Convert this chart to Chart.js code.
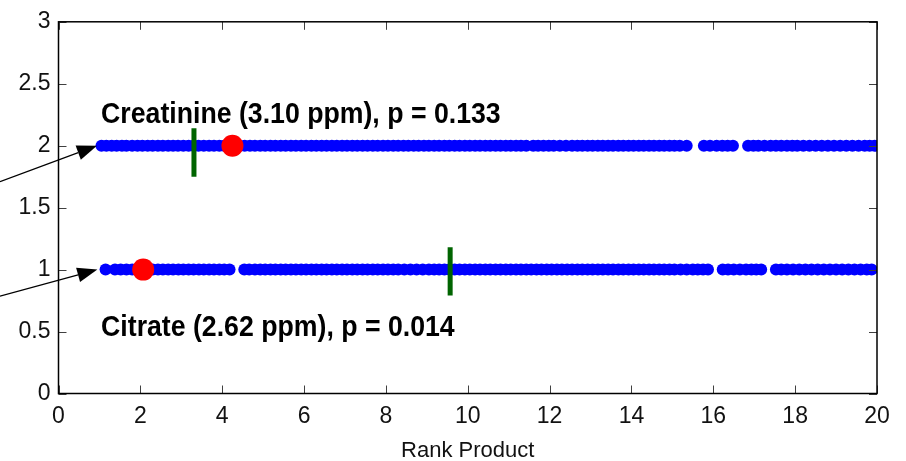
<!DOCTYPE html>
<html>
<head>
<meta charset="utf-8">
<script src="https://cdn.jsdelivr.net/npm/chart.js@4.4.1/dist/chart.umd.min.js"></script>
<style>
  html, body { margin: 0; padding: 0; background: #fff; }
  #rankChart { display: block; }
</style>
</head>
<body>
<canvas id="rankChart" width="906" height="461"></canvas>
<script>
/* Data */
const xTicks = [0, 2, 4, 6, 8, 10, 12, 14, 16, 18, 20];
const yTicks = [0, 0.5, 1, 1.5, 2, 2.5, 3];

// rank products of every permutation, creatinine row (y = 2)
const creatinine_ranks = [1.05, 1.17, 1.3, 1.42, 1.55, 1.66, 1.8, 1.93, 2.05, 2.18, 2.3, 2.43, 2.55, 2.68, 2.8, 2.92,
  3.05, 3.18, 3.3, 3.42, 3.55, 3.68, 3.8, 3.93, 4.05, 4.18, 4.3, 4.42, 4.55, 4.68, 4.8, 4.93, 5.05, 5.18, 5.3, 5.43,
  5.55, 5.68, 5.8, 5.93, 6.05, 6.18, 6.3, 6.43, 6.55, 6.68, 6.8, 6.93, 7.05, 7.18, 7.3, 7.43, 7.55, 7.68, 7.8, 7.93,
  8.05, 8.18, 8.3, 8.43, 8.55, 8.68, 8.8, 8.93, 9.05, 9.18, 9.3, 9.43, 9.55, 9.68, 9.8, 9.93, 10.05, 10.18, 10.3,
  10.43, 10.55, 10.68, 10.8, 10.93, 11.05, 11.18, 11.3, 11.43, 11.6, 11.72, 11.85, 11.98, 12.1, 12.25, 12.4, 12.55,
  12.68, 12.8, 12.93, 13.05, 13.18, 13.3, 13.43, 13.55, 13.68, 13.8, 13.93, 14.05, 14.18, 14.3, 14.43, 14.55, 14.68,
  14.8, 14.93, 15.05, 15.18, 15.35, 15.77, 15.92, 16.08, 16.22, 16.35, 16.48, 16.85, 16.98, 17.1, 17.25, 17.4, 17.53,
  17.66, 17.8, 17.93, 18.05, 18.2, 18.35, 18.5, 18.65, 18.8, 18.95, 19.1, 19.25, 19.4, 19.55, 19.7, 19.82, 19.94];

// citrate row (y = 1)
const citrate_ranks = [1.15, 1.38, 1.52, 1.66, 1.8, 1.93, 2.05, 2.18, 2.3, 2.43, 2.55, 2.68, 2.8, 2.93, 3.05, 3.18,
  3.3, 3.43, 3.55, 3.68, 3.8, 3.93, 4.05, 4.18, 4.54, 4.66, 4.8, 4.93, 5.05, 5.18, 5.3, 5.43, 5.55, 5.68, 5.8, 5.93,
  6.05, 6.18, 6.3, 6.43, 6.55, 6.68, 6.8, 6.93, 7.05, 7.18, 7.3, 7.43, 7.55, 7.68, 7.8, 7.93, 8.05, 8.18, 8.3, 8.45,
  8.6, 8.75, 8.9, 9.05, 9.18, 9.3, 9.43, 9.55, 9.68, 9.8, 9.93, 10.05, 10.18, 10.3, 10.43, 10.55, 10.68, 10.8, 10.93,
  11.05, 11.18, 11.3, 11.43, 11.55, 11.68, 11.8, 11.93, 12.05, 12.18, 12.3, 12.43, 12.55, 12.68, 12.8, 12.93, 13.05,
  13.18, 13.3, 13.43, 13.55, 13.68, 13.8, 13.93, 14.05, 14.18, 14.3, 14.43, 14.55, 14.68, 14.8, 14.93, 15.05, 15.2,
  15.35, 15.5, 15.62, 15.75, 15.87, 16.23, 16.36, 16.5, 16.65, 16.8, 16.93, 17.05, 17.17, 17.53, 17.66, 17.8, 17.95,
  18.1, 18.25, 18.4, 18.55, 18.7, 18.85, 19.0, 19.15, 19.3, 19.45, 19.6, 19.75, 19.87];

const row_levels = [2, 1];                       // creatinine, citrate
const observed_ranks = [4.25, 2.07];             // red markers
const cutoff_ranks = [3.31, 9.57];               // green lines
const cutoff_spans = [[1.75, 2.14], [0.79, 1.18]];
const metabolite_labels = ['Creatinine (3.10 ppm), p = 0.133', 'Citrate (2.62 ppm), p = 0.014'];

// build datasets
var bluePoints = [];
creatinine_ranks.forEach(v => bluePoints.push({ x: v, y: row_levels[0] }));
citrate_ranks.forEach(v => bluePoints.push({ x: v, y: row_levels[1] }));
var redPoints = observed_ranks.map((v, i) => ({ x: v, y: row_levels[i] }));

var greenSets = cutoff_ranks.map((v, i) => ({
  type: 'line',
  data: [{ x: v, y: cutoff_spans[i][0] }, { x: v, y: cutoff_spans[i][1] }],
  borderColor: '#006400',
  borderWidth: 5,
  pointRadius: 0,
  borderCapStyle: 'butt',
  order: 2
}));

// annotation placement (data units)
const labelAnchors = [{ x: 1.04, y: 2.185 }, { x: 1.04, y: 0.465 }];
const arrows = [
  { from: { x: -1.43, y: 1.71 }, to: { x: 0.94, y: 2.0 } },
  { from: { x: -1.43, y: 0.785 }, to: { x: 0.95, y: 1.0 } }
];

// MATLAB style box, inward ticks, labels and arrows
const matlabAxes = {
  id: 'matlabAxes',
  afterDraw(chart) {
    const ctx = chart.ctx;
    const a = chart.chartArea;
    const xs = chart.scales.x, ys = chart.scales.y;
    ctx.save();

    // ticks pointing in
    ctx.strokeStyle = '#404040';
    ctx.lineWidth = 1;
    ctx.beginPath();
    xTicks.forEach(v => {
      const px = Math.round(xs.getPixelForValue(v)) + 0.5;
      ctx.moveTo(px, a.bottom); ctx.lineTo(px, a.bottom - 8);
      ctx.moveTo(px, a.top); ctx.lineTo(px, a.top + 8);
    });
    yTicks.forEach(v => {
      const py = Math.round(ys.getPixelForValue(v)) + 0.5;
      ctx.moveTo(a.left, py); ctx.lineTo(a.left + 8, py);
      ctx.moveTo(a.right, py); ctx.lineTo(a.right - 8, py);
    });
    ctx.stroke();

    // box
    ctx.strokeStyle = '#000';
    ctx.lineWidth = 1.5;
    ctx.strokeRect(a.left, a.top, a.right - a.left, a.bottom - a.top);

    // labels
    ctx.fillStyle = '#000';
    ctx.font = 'bold 29px "Liberation Sans", Arial, sans-serif';
    ctx.textBaseline = 'alphabetic';
    metabolite_labels.forEach((t, i) => {
      ctx.save();
      ctx.translate(xs.getPixelForValue(labelAnchors[i].x), ys.getPixelForValue(labelAnchors[i].y));
      ctx.scale(0.92, 1);
      ctx.fillText(t, 0, 0);
      ctx.restore();
    });

    // arrows
    arrows.forEach(ar => {
      const x0 = xs.getPixelForValue(ar.from.x), y0 = ys.getPixelForValue(ar.from.y);
      const x1 = xs.getPixelForValue(ar.to.x), y1 = ys.getPixelForValue(ar.to.y);
      const ang = Math.atan2(y1 - y0, x1 - x0);
      const len = 20, half = 7.5;
      const bx = x1 - len * Math.cos(ang), by = y1 - len * Math.sin(ang);
      ctx.strokeStyle = '#000';
      ctx.lineWidth = 1.3;
      ctx.beginPath();
      ctx.moveTo(x0, y0); ctx.lineTo(bx, by);
      ctx.stroke();
      ctx.beginPath();
      ctx.moveTo(x1, y1);
      ctx.lineTo(bx + half * Math.sin(ang), by - half * Math.cos(ang));
      ctx.lineTo(bx - half * Math.sin(ang), by + half * Math.cos(ang));
      ctx.closePath();
      ctx.fill();
    });
    ctx.restore();
  }
};

const tickFont = { family: '"Liberation Sans", Arial, sans-serif', size: 23 };
const titleFont = { family: '"Liberation Sans", Arial, sans-serif', size: 22 };

const ctxRank = document.getElementById('rankChart').getContext('2d');
const rankChart = new Chart(ctxRank, {
  type: 'scatter',
  data: {
    datasets: [
      {
        label: 'permutations',
        data: bluePoints,
        backgroundColor: '#0000ff',
        borderColor: '#0000ff',
        borderWidth: 0,
        pointRadius: 6,
        order: 3
      },
      ...greenSets,
      {
        label: 'observed',
        data: redPoints,
        backgroundColor: '#ff0000',
        borderColor: '#ff0000',
        borderWidth: 0,
        pointRadius: 11,
        order: 1
      }
    ]
  },
  options: {
    responsive: false,
    animation: false,
    layout: { padding: { top: 20.5, right: 29, left: 0, bottom: 0 } },
    plugins: { legend: { display: false }, tooltip: { enabled: false } },
    scales: {
      x: {
        type: 'linear',
        min: 0, max: 20,
        grid: { display: false, drawTicks: false },
        border: { display: false },
        ticks: { stepSize: 2, color: '#111', font: tickFont, padding: 9, maxRotation: 0 },
        title: { display: true, text: 'Rank Product', color: '#111', font: titleFont, padding: { top: 0, bottom: -3 } },
        afterFit: s => { s.height = 67.5; }
      },
      y: {
        type: 'linear',
        min: 0, max: 3,
        grid: { display: false, drawTicks: false },
        border: { display: false },
        ticks: {
          stepSize: 0.5, color: '#111', font: tickFont, padding: 8,
          callback: function (value) { return String(value); }
        },
        afterFit: s => { s.width = 58.5; }
      }
    }
  },
  plugins: [matlabAxes]
});
</script>
</body>
</html>
